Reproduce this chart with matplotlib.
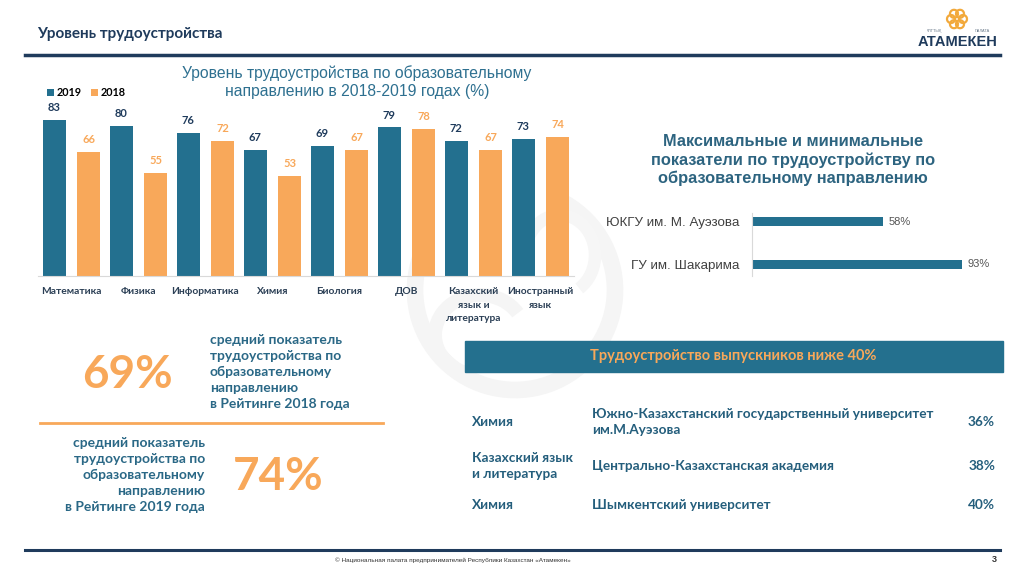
import matplotlib
matplotlib.use("Agg")
import matplotlib.pyplot as plt
import numpy as np
from matplotlib.patches import Rectangle, Arc
from matplotlib.lines import Line2D

# data
subjects = ["Математика", "Физика", "Информатика", "Химия", "Биология", "ДОВ",
            "Казахский\nязык и\nлитература", "Иностранный\nязык"]
vals_2019 = [83, 80, 76, 67, 69, 79, 72, 73]
vals_2018 = [66, 55, 72, 53, 67, 78, 67, 74]

unis = ["ЮКГУ им. М. Ауэзова", "ГУ им. Шакарима"]
uni_vals = [58, 93]

low_subjects = ["Химия", "Казахский язык\nи литература", "Химия"]
low_unis = ["Южно-Казахстанский государственный университет\nим.М.Ауэзова",
            "Центрально-Казахстанская академия", "Шымкентский университет"]
low_vals = ["36%", "38%", "40%"]

avg_2018 = "69%"
avg_2019 = "74%"

TEAL = "#23708f"
ORANGE = "#f8a85a"
NAVY = "#1f3b5c"
TXT = "#2a6886"
CAL = ["Lato", "DejaVu Sans"]
ARIAL = ["Liberation Sans", "DejaVu Sans"]

W, H = 1024, 574
fig = plt.figure(figsize=(W / 100, H / 100), dpi=100)
fig.patch.set_facecolor("white")


def px(x, y):
    return x / W, 1 - y / H


def box(x0, y0, x1, y1):
    return [x0 / W, 1 - y1 / H, (x1 - x0) / W, (y1 - y0) / H]


def ftext(x, y, s, **kw):
    fx, fy = px(x, y)
    return fig.text(fx, fy, s, **kw)


# faint watermark
bg = fig.add_axes([0, 0, 1, 1], zorder=-5)
bg.set_xlim(0, W)
bg.set_ylim(H, 0)
bg.axis("off")
bg.add_patch(Arc((515, 290), 200, 200, theta1=-60, theta2=200, lw=12, color="#f5f5f5"))
bg.add_patch(Arc((480, 335), 90, 80, theta1=100, theta2=330, lw=10, color="#f5f5f5"))
bg.add_patch(Arc((560, 255), 70, 80, theta1=180, theta2=420, lw=9, color="#f6f6f6"))

# header / footer lines
fig.add_artist(Line2D([25 / W, 1000 / W], [1 - 55 / H] * 2, color=NAVY, lw=2.5))
fig.add_artist(Line2D([25 / W, 1000 / W], [1 - 550 / H] * 2, color=NAVY, lw=2.2))
ftext(37, 34, "Уровень трудоустройства", fontsize=11, fontweight="bold", color=NAVY,
      family=CAL, va="center")
ftext(453, 560, "© Национальная палата предпринимателей Республики Казахстан «Атамекен»",
      fontsize=4.6, color="#333333", family=ARIAL, ha="center", va="center")
ftext(997, 560, "3", fontsize=6.5, fontweight="bold", color="#333333", family=ARIAL,
      ha="right", va="center")

# logo
ftext(958, 42, "АТАМЕКЕН", fontsize=10.5, fontweight="bold", color=NAVY, family=ARIAL,
      ha="center", va="center")
ftext(935, 31, "ҰЛТТЫҚ", fontsize=2.8, color="#667788", family=ARIAL, ha="center", va="center")
ftext(982, 31, "ПАЛАТА", fontsize=2.8, color="#667788", family=ARIAL, ha="center", va="center")
for ang in np.linspace(0, 2 * np.pi, 6, endpoint=False):
    bg.add_patch(Arc((957 + 6 * np.cos(ang), 19 + 6 * np.sin(ang)), 8, 8, lw=1.6,
                     color="#f2a93b"))

# bar chart
ax = fig.add_axes(box(38, 88, 574, 276))
x = np.arange(len(subjects))
bw = 0.34
b19 = ax.bar(x - 0.255, vals_2019, bw, color=TEAL, label="2019")
b18 = ax.bar(x + 0.255, vals_2018, bw, color=ORANGE, label="2018")
for r, v in zip(b19, vals_2019):
    ax.annotate(str(v), (r.get_x() + r.get_width() / 2, v), xytext=(0, 5),
                textcoords="offset points", ha="center", va="bottom", fontsize=8,
                fontweight="bold", color=NAVY, family=CAL)
for r, v in zip(b18, vals_2018):
    ax.annotate(str(v), (r.get_x() + r.get_width() / 2, v), xytext=(0, 5),
                textcoords="offset points", ha="center", va="bottom", fontsize=8,
                fontweight="bold", color=ORANGE, family=CAL)
ax.set_xlim(-0.5, len(subjects) - 0.5)
ax.set_ylim(0, 100)
ax.set_xticks(x)
ax.set_xticklabels(subjects, fontsize=7.4, fontweight="bold", color="#2b3f55",
                   family=CAL, linespacing=1.65)
ax.tick_params(axis="x", length=0, pad=8)
ax.set_yticks([])
for s in ["top", "left", "right"]:
    ax.spines[s].set_visible(False)
ax.spines["bottom"].set_color("#d9d9d9")
ax.patch.set_alpha(0)
ax.legend(loc="center left", bbox_to_anchor=px(37, 93), bbox_transform=fig.transFigure,
          ncol=2, frameon=False, handlelength=0.65, handleheight=0.65, handletextpad=0.25,
          columnspacing=0.9, prop={"family": CAL, "weight": "bold", "size": 7.8})

ftext(357, 82, "Уровень трудоустройства по образовательному\nнаправлению в 2018-2019 годах (%)",
      fontsize=11.3, color="#2e7090", family=ARIAL, ha="center", va="center", linespacing=1.2)

# max / min chart
ftext(793, 160, "Максимальные и минимальные\nпоказатели по трудоустройству по\nобразовательному направлению",
      fontsize=11.8, fontweight="bold", color="#2d6480", family=ARIAL, ha="center", va="center",
      linespacing=1.28)
ax2 = fig.add_axes(box(752, 213, 978, 276))
y2 = np.arange(len(unis))[::-1]
hb = ax2.barh(y2, uni_vals, 0.21, color=TEAL)
for r, v in zip(hb, uni_vals):
    ax2.annotate(f"{v}%", (v, r.get_y() + r.get_height() / 2), xytext=(4, 0),
                 textcoords="offset points", ha="left", va="center", fontsize=8,
                 color="#555555", family=ARIAL)
ax2.set_xlim(0, 100)
ax2.set_ylim(-0.28, 1.2)
ax2.set_yticks(y2)
ax2.set_yticklabels(unis, fontsize=9.6, color="#404040", family=ARIAL)
ax2.tick_params(axis="y", length=0, pad=9)
ax2.set_xticks([])
for s in ["top", "bottom", "right"]:
    ax2.spines[s].set_visible(False)
ax2.spines["left"].set_color("#d9d9d9")
ax2.patch.set_alpha(0)

# averages
blk = dict(fontsize=10, fontweight="bold", color=TXT, family=CAL, va="center",
           linespacing=1.42)
ftext(127, 375, avg_2018, fontsize=33, fontweight="bold", color=ORANGE, family=CAL,
      ha="center", va="center")
ftext(210, 372, "средний показатель\nтрудоустройства по\nобразовательному\nнаправлению\nв Рейтинге 2018 года",
      ha="left", **blk)
fig.add_artist(Line2D([40 / W, 383 / W], [1 - 423 / H] * 2, color=ORANGE, lw=2))
ftext(205, 475, "средний показатель\nтрудоустройства по\nобразовательному\nнаправлению\nв Рейтинге 2019 года",
      ha="right", **blk)
ftext(278, 477, avg_2019, fontsize=33, fontweight="bold", color=ORANGE, family=CAL,
      ha="center", va="center")

# low employment table
fig.add_artist(Rectangle(px(465, 372), 538 / W, 31 / H, color="#24708e"))
ftext(733, 356, "Трудоустройство выпускников ниже 40%", fontsize=10.5, fontweight="bold",
      color=ORANGE, family=CAL, ha="center", va="center")
row_y = [422, 466, 505]
for yy, s, u, v in zip(row_y, low_subjects, low_unis, low_vals):
    kw = dict(fontsize=9.8, fontweight="bold", color="#245e7c", family=CAL, va="center",
              linespacing=1.5)
    ftext(472, yy, s, ha="left", **kw)
    ftext(592, yy, u, ha="left", **kw)
    ftext(995, yy, v, ha="right", **kw)

fig.savefig("out.png", dpi=100, facecolor="white")
